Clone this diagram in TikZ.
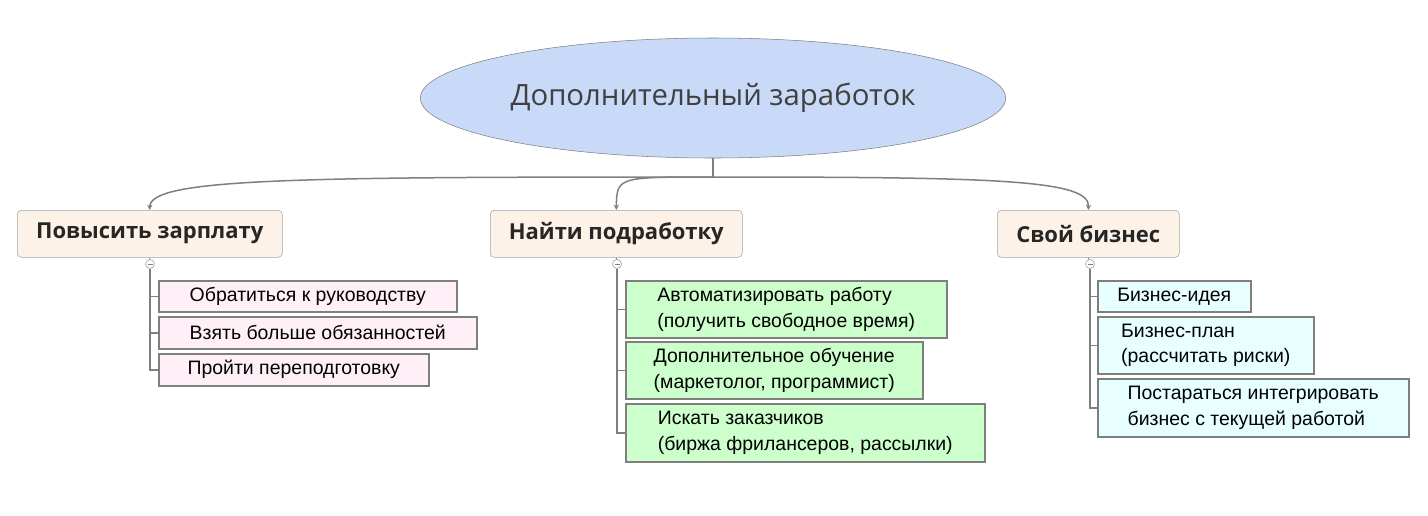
\documentclass[tikz,border=0pt]{standalone}
\usepackage{fontspec}
\setmainfont{Liberation Sans}
\newfontfamily\headfont{Open Sans}
\usetikzlibrary{shapes.geometric,arrows.meta}
\newlength{\du}
\setlength{\du}{0.75pt}
\definecolor{linegray}{HTML}{7F7F7F}
\definecolor{topicfill}{HTML}{C9DAF8}
\definecolor{branchfill}{HTML}{FDF2E8}
\definecolor{pinkfill}{HTML}{FFF0F8}
\definecolor{greenfill}{HTML}{CCFFCC}
\definecolor{cyanfill}{HTML}{E8FFFF}

\begin{document}
\begin{tikzpicture}[x=\du, y=\du]
\tikzstyle{topic}=[ellipse, draw=linegray, fill=topicfill, minimum width=540\du, minimum height=120\du, font=\headfont\fontsize{22}{26}\selectfont, text=black!75]
\tikzstyle{branch}=[draw=linegray!70, fill=branchfill, rounded corners=3pt, anchor=north west, minimum height=47\du, inner xsep=0pt, font=\headfont\bfseries\fontsize{16.5}{20}\selectfont, text=black!85]
\tikzstyle{leaf}=[draw=linegray, line width=1.5\du, anchor=north west, inner xsep=12\du, inner ysep=0pt, align=left, font=\fontsize{14.6}{19}\selectfont]
\tikzstyle{fold}=[circle, draw=linegray!80, fill=white, inner sep=0pt, minimum size=9\du]
\tikzstyle{link}=[draw=linegray, line width=1.5\du]
\tikzstyle{tip}=[-{Stealth[length=4pt,width=4pt]}]

\pgftransformyscale{-1.000000}
\useasboundingbox (0,0) rectangle (1428,515);

\coordinate (top)  at (713, 98);
\coordinate (hub)  at (713, 177);
\coordinate (b1)   at (17, 210);
\coordinate (b2)   at (490, 210);
\coordinate (b3)   at (997, 210);

%%%%%%%%%%%%%%%%%%%%%%%%%%%%%%%%%%%%%%%%%%%%%%%%%%%%%%%%%%
% TEMA
\node[topic] (T) at (top) {Дополнительный заработок};

% RAMAS
\node[branch, minimum width=265\du] (P1) at (b1) {Повысить зарплату};
\node[branch, minimum width=252\du] (P2) at (b2) {Найти подработку};
\node[branch, minimum width=182\du] (P3) at (b3) {Свой бизнес};

\node[fold] (M1) at (150, 264) {};
\node[fold] (M2) at (617, 264) {};
\node[fold] (M3) at (1090, 264) {};
\foreach \m in {M1,M2,M3}
  \draw[linegray, line width=0.8\du] ([xshift=-2.5\du]\m.center) -- ([xshift=2.5\du]\m.center);

% HOJAS 1
\node[leaf, fill=pinkfill, minimum width=298\du, minimum height=31\du] (L11) at (158, 280) {Обратиться к руководству};
\node[leaf, fill=pinkfill, minimum width=318\du, minimum height=32\du] (L12) at (158, 316) {Взять больше обязанностей};
\node[leaf, fill=pinkfill, minimum width=270\du, minimum height=32\du] (L13) at (158, 353) {Пройти переподготовку};

% HOJAS 2
\node[leaf, fill=greenfill, minimum width=321\du, minimum height=57\du] (L21) at (625, 280) {Автоматизировать работу\\(получить свободное время)};
\node[leaf, fill=greenfill, minimum width=297\du, minimum height=57\du] (L22) at (625, 341) {Дополнительное обучение\\(маркетолог, программист)};
\node[leaf, fill=greenfill, minimum width=359\du, minimum height=58\du] (L23) at (625, 403) {Искать заказчиков\\(биржа фрилансеров, рассылки)};

% HOJAS 3
\node[leaf, fill=cyanfill, minimum width=153\du, minimum height=31\du] (L31) at (1097, 280) {Бизнес-идея};
\node[leaf, fill=cyanfill, minimum width=216\du, minimum height=57\du] (L32) at (1097, 316) {Бизнес-план\\(рассчитать риски)};
\node[leaf, fill=cyanfill, minimum width=311\du, minimum height=58\du] (L33) at (1097, 378) {Постараться интегрировать\\бизнес с текущей работой};
%%%%%%%%%%%%%%%%%%%%%%%%%%%%%%%%%%%%%%%%%%%%%%%%%%%%%%%%%%

\draw[link] (T.south) -- (hub);
\draw[link, tip] (hub) .. controls (300, 177) and (150, 178) .. (P1.north);
\draw[link, tip] (hub) .. controls (617, 177) .. (P2.north);
\draw[link, tip] (hub) .. controls (1000, 177) and (1090, 180) .. (P3.north);

\draw[link, line width=0.8\du] (P1.south) -- (M1);
\draw[link, line width=0.8\du] (P2.south) -- (M2);
\draw[link, line width=0.8\du] (P3.south) -- (M3);

\foreach \l in {L11,L12,L13} \draw[link] (M1.south) |- (\l.west);
\foreach \l in {L21,L22,L23} \draw[link] (M2.south) |- (\l.west);
\foreach \l in {L31,L32,L33} \draw[link] (M3.south) |- (\l.west);
\end{tikzpicture}
\end{document}
